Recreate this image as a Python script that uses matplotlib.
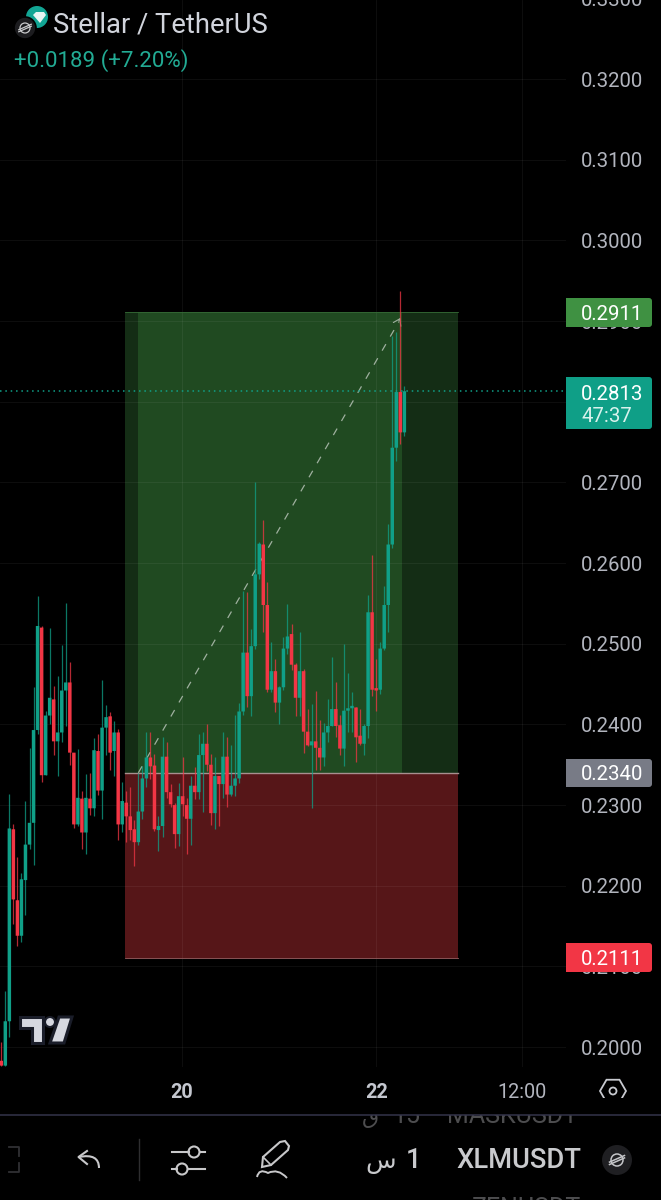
import matplotlib
matplotlib.use('Agg')
import matplotlib.pyplot as plt
import numpy as np
from matplotlib.patches import Rectangle, FancyBboxPatch, Circle, RegularPolygon, Polygon, PathPatch
from matplotlib.path import Path

plt.rcParams['font.family'] = ['Roboto', 'DejaVu Sans']

# hourly candles
opens = [.1983, .1977, .2032, .2270, .2182, .2138, .2207, .2251, .2278, .2393,
         .2520, .2337, .2411, .2431, .2379, .2390, .2442, .2452, .2365, .2276,
         .2308, .2266, .2308, .2296, .2367, .2318, .2396, .2410, .2367, .2390,
         .2276, .2303, .2286, .2270, .2254, .2292, .2333, .2359, .2349, .2269,
         .2274, .2360, .2316, .2300, .2264, .2311, .2300, .2283, .2324, .2316,
         .2362, .2376, .2350, .2290, .2336, .2326, .2360, .2313, .2324, .2333,
         .2416, .2489, .2435, .2497, .2586, .2623, .2548, .2443, .2466, .2427,
         .2446, .2494, .2512, .2474, .2433, .2466, .2391, .2374, .2379, .2371,
         .2359, .2390, .2398, .2419, .2399, .2370, .2417, .2420, .2421, .2386,
         .2376, .2398, .2539, .2444, .2443, .2494, .2548, .2623, .2743, .2812,
         .2762]
highs = [.2006, .2070, .2314, .2277, .2236, .2216, .2305, .2371, .2446, .2559,
         .2522, .2417, .2520, .2448, .2460, .2498, .2551, .2477, .2365, .2370,
         .2317, .2339, .2340, .2383, .2388, .2455, .2424, .2415, .2404, .2394,
         .2329, .2317, .2322, .2282, .2340, .2348, .2390, .2390, .2363, .2286,
         .2384, .2378, .2326, .2302, .2327, .2360, .2309, .2336, .2347, .2388,
         .2390, .2401, .2363, .2359, .2336, .2390, .2384, .2374, .2412, .2427,
         .2565, .2564, .2518, .2700, .2626, .2654, .2577, .2502, .2481, .2448,
         .2508, .2549, .2525, .2476, .2514, .2469, .2419, .2425, .2441, .2406,
         .2402, .2431, .2484, .2452, .2412, .2500, .2464, .2440, .2422, .2419,
         .2400, .2560, .2610, .2481, .2502, .2571, .2649, .2881, .2886, .2937,
         .2819]
lows = [.1977, .1977, .2012, .2152, .2125, .2130, .2164, .2245, .2226, .2388,
        .2328, .2337, .2400, .2362, .2336, .2378, .2398, .2350, .2272, .2274,
        .2245, .2239, .2288, .2287, .2313, .2283, .2362, .2343, .2336, .2257,
        .2266, .2254, .2257, .2224, .2251, .2283, .2323, .2332, .2268, .2243,
        .2261, .2309, .2297, .2247, .2249, .2286, .2239, .2250, .2307, .2308,
        .2291, .2342, .2275, .2270, .2274, .2309, .2298, .2311, .2311, .2327,
        .2412, .2421, .2410, .2493, .2580, .2514, .2440, .2440, .2415, .2400,
        .2443, .2487, .2468, .2410, .2411, .2365, .2373, .2296, .2343, .2343,
        .2349, .2378, .2398, .2385, .2362, .2348, .2391, .2390, .2353, .2375,
        .2362, .2383, .2435, .2417, .2438, .2492, .2515, .2619, .2726, .2748,
        .2757]
closes = [.1977, .2032, .2271, .2183, .2138, .2208, .2251, .2278, .2393, .2522,
          .2337, .2411, .2433, .2379, .2390, .2442, .2452, .2365, .2276, .2309,
          .2266, .2309, .2296, .2368, .2318, .2396, .2409, .2365, .2390, .2276,
          .2305, .2286, .2269, .2254, .2292, .2333, .2359, .2348, .2270, .2274,
          .2360, .2316, .2301, .2264, .2311, .2301, .2283, .2324, .2316, .2362,
          .2376, .2350, .2290, .2336, .2326, .2360, .2313, .2324, .2333, .2416,
          .2489, .2435, .2497, .2586, .2624, .2548, .2443, .2466, .2427, .2446,
          .2494, .2509, .2474, .2433, .2466, .2391, .2374, .2379, .2371, .2359,
          .2390, .2398, .2419, .2398, .2370, .2417, .2420, .2421, .2384, .2376,
          .2398, .2539, .2443, .2442, .2494, .2548, .2623, .2743, .2812, .2762,
          .2813]

price_ticks = [0.33, 0.32, 0.31, 0.30, 0.29, 0.28, 0.27, 0.26, 0.25, 0.24, 0.23, 0.22, 0.21, 0.20]
time_ticks = [44.8, 93, 129.2]
time_labels = ['20', '22', '12:00']
time_weights = ['bold', 'bold', 'normal']

target_price = 0.2911
entry_price = 0.2340
stop_price = 0.2111
last_price = 0.2813

W, H = 661, 1200
green = '#10a088'
red = '#f23645'
label_col = '#b2b5be'

fig = plt.figure(figsize=(W / 100, H / 100), dpi=100, facecolor='black')

# chart pane
ax = fig.add_axes([0, (H - 1067) / H, 566 / W, 1067 / H], facecolor='black')
ax.set_xlim(-0.32, 140.1)
ax.set_ylim(0.19753, 0.3298)
ax.set_xticks([])
ax.set_yticks([])
for s in ax.spines.values():
    s.set_visible(False)

for p in price_ticks:
    ax.axhline(p, color='white', alpha=0.055, lw=0.7, zorder=2)
for t in time_ticks:
    ax.axvline(t, color='white', alpha=0.055, lw=0.7, zorder=2)

# position tool
ax.add_patch(Rectangle((30.7, entry_price), 82.6, target_price - entry_price, color='#142d15', lw=0, zorder=1))
ax.add_patch(Rectangle((33.9, entry_price), 65.5, target_price - entry_price, color='#204a21', lw=0, zorder=1))
ax.add_patch(Rectangle((30.7, stop_price), 82.6, entry_price - stop_price, color='#561618', lw=0, zorder=1))
ax.plot([30.7, 113.3], [entry_price, entry_price], color='#a88f8f', lw=1.0, zorder=3)
ax.plot([30.7, 113.3], [target_price, target_price], color='#356a36', lw=0.6, zorder=3)
ax.plot([30.7, 113.3], [stop_price, stop_price], color='#a06063', lw=0.6, zorder=3)

ax.plot([34, 98.6], [entry_price, 0.2899], color='#9fb09f', lw=0.9, dashes=(6, 7), zorder=3)
ax.annotate('', xy=(99.3, target_price - 0.0004), xytext=(98.3, 0.2897),
            arrowprops=dict(arrowstyle='->,head_length=0.45,head_width=0.3', color='#9fb09f', lw=0.8), zorder=3)

ax.axhline(last_price, color=green, lw=1.1, dashes=(1, 2.5), zorder=3)

# candles
idx = np.arange(len(opens))
o = np.array(opens)
c = np.array(closes)
cols = [green if cl >= op else red for op, cl in zip(o, c)]
ax.vlines(idx, lows, highs, colors=cols, lw=0.9, alpha=0.75, zorder=4)
bars = ax.bar(idx, np.maximum(np.abs(c - o), 0.0003), bottom=np.minimum(o, c), width=0.86, color=cols, lw=0, zorder=5)
for b in bars:
    b.set_snap(False)

# everything outside the chart pane, drawn in pixels
ui = fig.add_axes([0, 0, 1, 1], facecolor='none')
ui.set_xlim(0, W)
ui.set_ylim(H, 0)
ui.axis('off')


def price_y(p):
    return H - ax.transData.transform((0, p))[1]


def index_x(i):
    return ax.transData.transform((i, 0))[0]


for p in price_ticks:
    ui.text(581, price_y(p) + 2, '%.4f' % p, color=label_col, fontsize=14.7, va='center', ha='left', zorder=2)

badges = [(target_price, '#3f9142', 298, 327), (entry_price, '#787b86', 759, 787), (stop_price, red, 943, 972)]
for p, col, y0, y1 in badges:
    ui.add_patch(FancyBboxPatch((569, y0 + 3), 80, y1 - y0 - 6, boxstyle='round,pad=3', fc=col, ec='none', zorder=3))
    ui.add_patch(Rectangle((566, y0), 10, y1 - y0, fc=col, ec='none', zorder=3))
    ui.text(581, (y0 + y1) / 2 + 2, '%.4f' % p, color='white', fontsize=14.7, va='center', ha='left', zorder=4)

ui.add_patch(FancyBboxPatch((569, 380), 80, 46, boxstyle='round,pad=3', fc='#0f9f87', ec='none', zorder=3))
ui.add_patch(Rectangle((566, 377), 10, 52, fc='#0f9f87', ec='none', zorder=3))
ui.text(581, 394, '%.4f' % last_price, color='white', fontsize=14.7, va='center', zorder=4)
ui.text(581, 416, '47:37', color='#d8f2ec', fontsize=14.7, va='center', zorder=4)

for t, lab, w in zip(time_ticks, time_labels, time_weights):
    ui.text(index_x(t), 1093, lab, color='#c4c7cf' if w == 'bold' else label_col, fontsize=14.3, fontweight=w,
            ha='center', va='center')


def stellar_glyph(cx, cy, r, col, lw=1.1):
    ui.add_patch(Circle((cx, cy), r, fc='none', ec=col, lw=lw, zorder=8))
    ui.plot([cx - r * 1.25, cx + r * 1.25], [cy + r * 0.35, cy - r * 0.75], color=col, lw=lw, zorder=8)
    ui.plot([cx - r * 1.25, cx + r * 1.25], [cy + r * 0.75, cy - r * 0.35], color=col, lw=lw, zorder=8)


# header
ui.add_patch(Circle((37, 17), 11, fc='#12a594', ec='none', zorder=6))
ui.add_patch(Polygon([(33, 15), (36, 12), (44, 12), (46, 15), (40, 23)], fc='#e8f5f3', ec='none', zorder=6))
ui.add_patch(Circle((25, 28), 11, fc='#1c1c1f', ec='black', lw=1.2, zorder=7))
stellar_glyph(25, 28, 5, '#c9cacc', 0.9)
ui.text(53, 25, 'Stellar / TetherUS', color='#d1d4dc', fontsize=19.7, va='center', zorder=6)
ui.text(14, 61, '+0.0189 (+7.20%)', color='#22ab94', fontsize=16, va='center', zorder=6)

# tradingview logo
logo = '#d6d8e0'
edge = '#1a1d29'
ui.add_patch(Polygon([(20, 1017), (43, 1017), (43, 1043), (32, 1043), (32, 1028), (20, 1028)],
                     fc=logo, ec=edge, lw=2.2, zorder=6, joinstyle='miter'))
ui.add_patch(Circle((50, 1022), 5, fc=logo, ec=edge, lw=1.5, zorder=6))
ui.add_patch(Polygon([(59, 1017), (72, 1017), (64, 1043), (50, 1043)], fc=logo, ec=edge, lw=2.2, zorder=6))

# hexagon settings button
ui.add_patch(RegularPolygon((613, 1091), 6, radius=13, orientation=np.pi / 2, fc='none', ec='#c8cad0', lw=1.3))
ui.add_patch(Circle((613, 1091), 3.5, fc='none', ec='#c8cad0', lw=1.3))

# toolbar. The symbol list scrolls behind it so its text is cut by the divider
faded = '#4d4d4f'
ui.text(578, 1123, 'MASKUSDT', color=faded, fontsize=18, ha='right', va='baseline', zorder=1)
ui.text(421, 1123, '15', color=faded, fontsize=18, ha='right', va='baseline', zorder=1)
ui.text(370, 1123, 'ق', color=faded, fontsize=16, ha='center', va='baseline', zorder=1, family='DejaVu Sans')
ui.add_patch(Rectangle((340, 1098), 321, 17, fc='black', ec='none', zorder=1.5))
ui.plot([0, W], [1115, 1115], color='#33344a', lw=1.1, zorder=2)
ui.text(581, 1197, 'ZENUSDT', color=faded, fontsize=18, ha='right', va='top', zorder=1, clip_on=False)

ui.text(519, 1161, 'XLMUSDT', color='#c9cacd', fontsize=19.7, fontweight='medium', ha='center', va='center')
ui.text(413, 1161, '1', color='#c9cacd', fontsize=19.7, fontweight='medium', ha='center', va='center')
ui.text(381, 1162, 'س', color='#c9cacd', fontsize=18, ha='center', va='center', family='DejaVu Sans')
ui.add_patch(Circle((617, 1160), 15, fc='#1f1f22', ec='none', zorder=5))
stellar_glyph(617, 1160, 6, '#c4c5c8')

icon = '#c8c8ca'
ui.plot([9, 19, 19], [1147, 1147, 1156], color='#303033', lw=1.3)
ui.plot([19, 19, 9], [1163, 1172, 1172], color='#303033', lw=1.3)
ui.plot([139, 139], [1139, 1180], color='#2e2e30', lw=1)
ui.add_patch(PathPatch(Path([(79, 1157), (99, 1153), (99, 1168)], [Path.MOVETO, Path.CURVE3, Path.CURVE3]),
                       fc='none', ec=icon, lw=1.5))
ui.plot([87, 78.5, 87], [1151, 1157, 1164], color=icon, lw=1.5)
ui.plot([172, 189], [1152, 1152], color=icon, lw=1.5)
ui.plot([200, 205], [1152, 1152], color=icon, lw=1.5)
ui.add_patch(Circle((194, 1152), 5.5, fc='none', ec=icon, lw=1.5))
ui.plot([172, 177], [1169, 1169], color=icon, lw=1.5)
ui.plot([188, 205], [1169, 1169], color=icon, lw=1.5)
ui.add_patch(Circle((182, 1169), 5.5, fc='none', ec=icon, lw=1.5))
ui.add_patch(Polygon([(262, 1167), (263, 1157), (280, 1142), (285, 1141), (289, 1146), (288, 1150), (271, 1165)],
                     fc='none', ec=icon, lw=1.5))
ui.plot([263, 271], [1157, 1165], color=icon, lw=1.2)
ui.add_patch(PathPatch(Path([(257, 1177), (259, 1168), (268, 1173), (278, 1168), (287, 1178)],
                            [Path.MOVETO, Path.CURVE3, Path.CURVE3, Path.CURVE3, Path.CURVE3]),
                       fc='none', ec=icon, lw=1.4))

fig.savefig('out.png', dpi=100, facecolor='black')
